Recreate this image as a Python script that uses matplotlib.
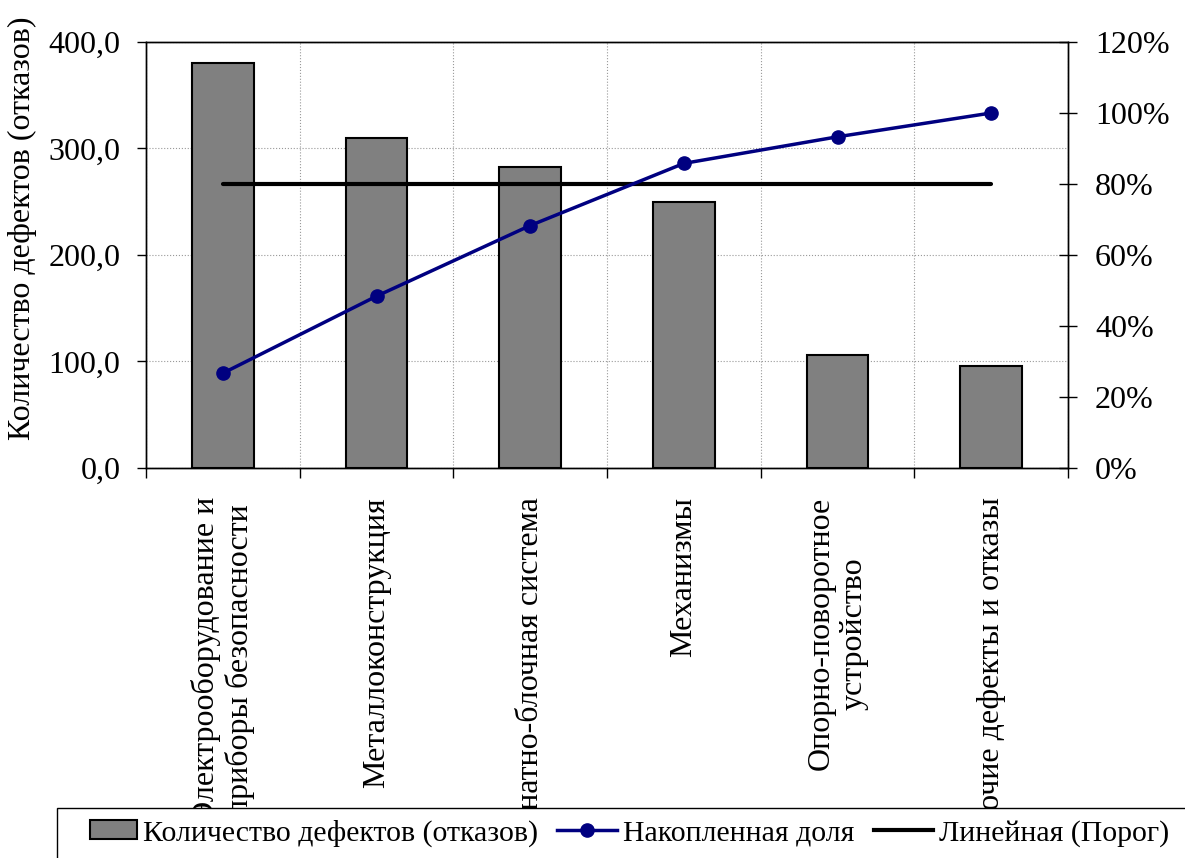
import matplotlib
matplotlib.use("Agg")
import matplotlib.pyplot as plt
from matplotlib.ticker import FuncFormatter, MultipleLocator, FixedLocator
from matplotlib.patches import Patch, Rectangle
from matplotlib.lines import Line2D
from matplotlib.legend_handler import HandlerPatch

plt.rcParams['font.family'] = ['Liberation Serif', 'DejaVu Serif']

# Pareto data: defect groups, counts and cumulative share
categories = [
    "Электрооборудование и\nприборы безопасности",
    "Металлоконструкция",
    "Канатно-блочная система",
    "Механизмы",
    "Опорно-поворотное\nустройство",
    "Прочие дефекты и отказы",
]
defects = [380, 310, 283, 250, 106, 96]
cum_share = [26.7, 48.4, 68.3, 85.8, 93.3, 100.0]
threshold = [80, 80, 80, 80, 80, 80]

W, H = 1185, 858
fig = plt.figure(figsize=(W / 100, H / 100), dpi=100)
ax = fig.add_axes([146/W, 1-468/H, (1068-146)/W, (468-42)/H])
x = list(range(len(categories)))

ax.bar(x, defects, width=0.4, color='#808080', edgecolor='black', linewidth=1.5, zorder=2)
ax.set_xlim(-0.5, len(categories) - 0.5)
ax.set_ylim(0, 400)
ax.yaxis.set_major_locator(MultipleLocator(100))
ax.yaxis.set_major_formatter(FuncFormatter(lambda v, p: f"{v:.1f}".replace('.', ',')))
ax.set_axisbelow(True)

# category labels at centres, tick marks at the boundaries
ax.set_xticks(x)
ax.set_xticklabels(categories, rotation=90, va='top', ha='center', multialignment='center', fontsize=23)
ax.xaxis.set_minor_locator(FixedLocator([i + 0.5 for i in range(-1, len(categories))]))
ax.tick_params(axis='x', which='major', length=0, pad=21)
ax.tick_params(axis='x', which='minor', direction='out', length=7, width=1)
ax.tick_params(axis='y', direction='out', length=6.5, width=1, labelsize=23, pad=12)
ax.grid(which='minor', axis='x', color='#999999', linestyle=':', linewidth=0.8)
ax.grid(which='major', axis='y', color='#999999', linestyle=':', linewidth=0.8)
ax.grid(which='major', axis='x', visible=False)

ax2 = ax.twinx()
ax2.plot(x, threshold, color='black', linewidth=3, solid_capstyle='round', zorder=3)
ax2.plot(x, cum_share, color='#000080', linewidth=2.5, marker='o', markersize=9.5, zorder=4)
ax2.set_ylim(0, 120)
ax2.yaxis.set_major_locator(MultipleLocator(20))
ax2.yaxis.set_major_formatter(FuncFormatter(lambda v, p: f"{v:.0f}%"))
ax2.tick_params(axis='y', direction='inout', length=13, width=1, labelsize=23, pad=13)

for a in (ax, ax2):
    for s in a.spines.values():
        s.set_linewidth(1)
        s.set_color('black')

fig.text(22/W, 1-228/H, "Количество дефектов (отказов)", rotation=90,
         ha='center', va='center', fontsize=23)

# legend box runs off the right and bottom edges of the figure
box = Rectangle((57/W, -0.02), 1.0, 1-808/H + 0.02, transform=fig.transFigure,
                facecolor='white', edgecolor='black', linewidth=1, zorder=4)
fig.add_artist(box)


def short_box(legend, orig_handle, xdescent, ydescent, width, height, fontsize):
    # bar swatch is narrower than the line samples, pushed to the right of its slot
    w = width * 0.78
    return Rectangle((width - w - xdescent, -ydescent), w, height)


handles = [
    Patch(facecolor='#808080', edgecolor='black', linewidth=1.5),
    Line2D([], [], color='#000080', linewidth=2.5, marker='o', markersize=9.5),
    Line2D([], [], color='black', linewidth=3),
]
labels = ["Количество дефектов (отказов)", "Накопленная доля", "Линейная (Порог)"]
leg = fig.legend(handles, labels, loc='center left', bbox_to_anchor=(77/W, 1-833/H),
                 ncol=3, fontsize=21.5, frameon=False, handlelength=2.0, handleheight=0.6,
                 handletextpad=0.2, columnspacing=0.65, borderpad=0, borderaxespad=0,
                 handler_map={Patch: HandlerPatch(patch_func=short_box)})
leg.set_zorder(5)

fig.savefig("out.png", dpi=100)
